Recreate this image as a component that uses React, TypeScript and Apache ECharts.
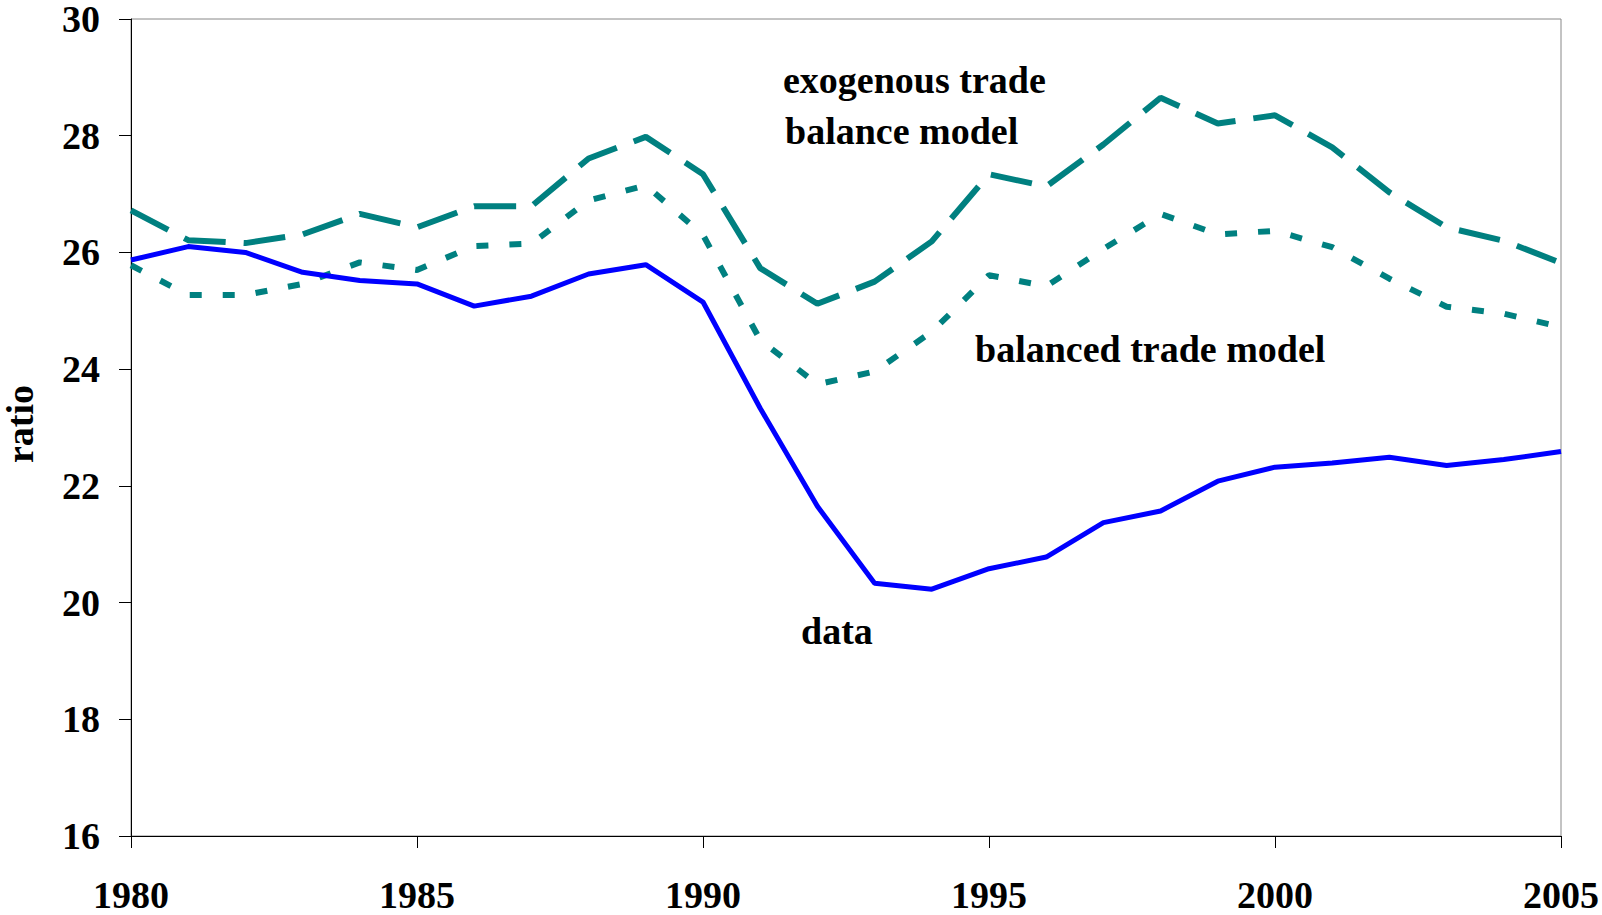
import React, { useEffect, useRef } from "react";
import * as echarts from "echarts";

const years = [1980, 1981, 1982, 1983, 1984, 1985, 1986, 1987, 1988, 1989, 1990, 1991, 1992, 1993, 1994, 1995, 1996, 1997, 1998, 1999, 2000, 2001, 2002, 2003, 2004, 2005];
const dataSeries = [25.87, 26.10, 26.00, 25.66, 25.52, 25.46, 25.08, 25.25, 25.63, 25.79, 25.15, 23.33, 21.65, 20.33, 20.23, 20.58, 20.78, 21.37, 21.57, 22.08, 22.32, 22.39, 22.49, 22.35, 22.45, 22.59];
const exogenousModel = [26.72, 26.21, 26.16, 26.31, 26.66, 26.43, 26.79, 26.79, 27.61, 27.98, 27.34, 25.73, 25.12, 25.5, 26.19, 27.34, 27.13, 27.85, 28.65, 28.21, 28.35, 27.80, 27.03, 26.43, 26.20, 25.82];
const balancedModel = [25.78, 25.27, 25.27, 25.46, 25.83, 25.70, 26.11, 26.15, 26.89, 27.15, 26.30, 24.5, 23.74, 23.96, 24.64, 25.61, 25.42, 26.06, 26.66, 26.31, 26.37, 26.09, 25.55, 25.07, 24.95, 24.72];
const yAxisTitle = "ratio";
const annotations = ["exogenous trade", "balance model", "balanced trade model", "data"];

const FONT = '"Liberation Serif", "Times New Roman", serif';

export default function App() {
  const ref = useRef<HTMLDivElement>(null);
  useEffect(() => {
    if (!ref.current) return;
    const chart = echarts.init(ref.current, undefined, { renderer: "svg" });
    const pair = (vals: number[]) => years.map((y, i) => [y, vals[i]]);
    const textStyle = (text: string, x: number, y: number, size = 38) => ({
      type: "text",
      x,
      y,
      style: {
        text,
        fill: "#000",
        font: `bold ${size}px ${FONT}`,
        align: "left",
        verticalAlign: "middle",
      },
    });
    chart.setOption({
      animation: false,
      backgroundColor: "#fff",
      grid: {
        left: 131,
        right: 40,
        top: 16,
        bottom: 79,
        show: true,
        borderColor: "#888",
        borderWidth: 1,
        backgroundColor: "transparent",
      },
      xAxis: {
        type: "value",
        min: 1980,
        max: 2005,
        interval: 5,
        axisLine: { show: true, lineStyle: { color: "#000", width: 1 } },
        axisTick: { show: true, length: 12, inside: false, lineStyle: { color: "#000" } },
        splitLine: { show: false },
        axisLabel: {
          margin: 40,
          color: "#000",
          fontSize: 38,
          fontWeight: "bold",
          fontFamily: FONT,
          formatter: (v: number) => String(v),
        },
      },
      yAxis: {
        type: "value",
        min: 16,
        max: 30,
        interval: 2,
        axisLine: { show: true, lineStyle: { color: "#000", width: 1 } },
        axisTick: { show: true, length: 12, inside: false, lineStyle: { color: "#000" } },
        splitLine: { show: false },
        axisLabel: {
          margin: 31,
          color: "#000",
          fontSize: 38,
          fontWeight: "bold",
          fontFamily: FONT,
        },
      },
      series: [
        {
          name: "exogenous trade balance model",
          type: "line",
          symbol: "none",
          data: pair(exogenousModel),
          lineStyle: { color: "#008080", width: 6, type: [42, 18] },
          z: 2,
        },
        {
          name: "balanced trade model",
          type: "line",
          symbol: "none",
          data: pair(balancedModel),
          lineStyle: { color: "#008080", width: 6, type: [12, 21] },
          z: 2,
        },
        {
          name: "data",
          type: "line",
          symbol: "none",
          data: pair(dataSeries),
          lineStyle: { color: "#0000FF", width: 5, type: "solid" },
          z: 3,
        },
      ],
      graphic: [
        textStyle(annotations[0], 783, 80),
        textStyle(annotations[1], 785, 131),
        textStyle(annotations[2], 975, 349),
        textStyle(annotations[3], 801, 631),
        {
          type: "text",
          x: 20,
          y: 424,
          rotation: Math.PI / 2,
          style: {
            text: yAxisTitle,
            fill: "#000",
            font: `bold 38px ${FONT}`,
            align: "center",
            verticalAlign: "middle",
          },
        },
      ],
    });
    return () => chart.dispose();
  }, []);
  return (
    <div
      ref={ref}
      style={{ position: "fixed", left: 0, top: 0, width: 1602, height: 915, background: "#fff" }}
    />
  );
}
